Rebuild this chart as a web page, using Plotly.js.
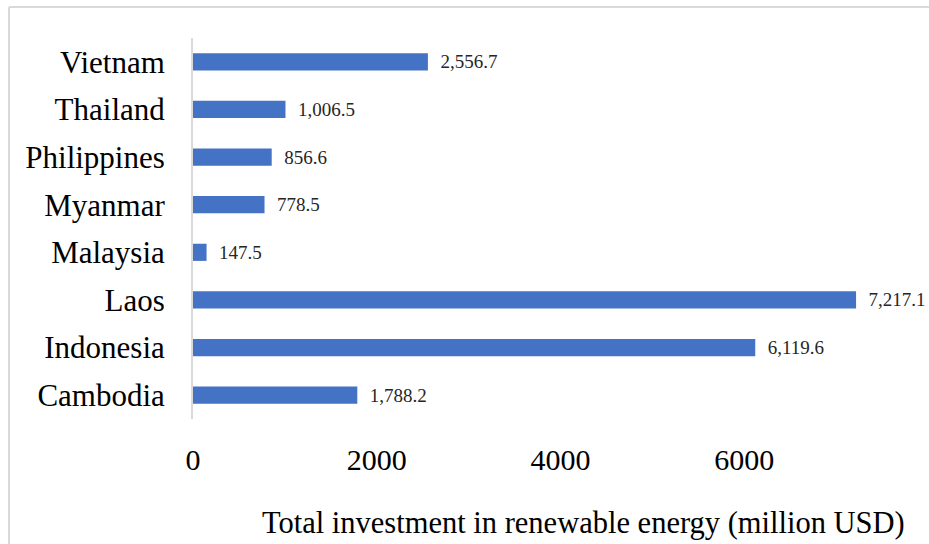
<!DOCTYPE html>
<html>
<head>
<meta charset="utf-8">
<script src="https://cdn.plot.ly/plotly-3.0.1.min.js"></script>
<style>html,body{margin:0;padding:0;background:#fff;}#chart{width:929px;height:544px;}</style>
</head>
<body>
<div id="chart"></div>
<script>
const countries = ["Cambodia", "Indonesia", "Laos", "Malaysia", "Myanmar", "Philippines", "Thailand", "Vietnam"];
const investment = [1788.2, 6119.6, 7217.1, 147.5, 778.5, 856.6, 1006.5, 2556.7];
const xTicks = [0, 2000, 4000, 6000];
const xTitle = "Total investment in renewable energy (million USD)";

const font = "Liberation Serif, Times New Roman, serif";
const W = 929, H = 544, L = 193, R = 1, T = 38, B = 125;
const pw = W - L - R, ph = H - T - B;

Plotly.newPlot("chart", [{
  type: "bar",
  orientation: "h",
  y: countries,
  x: investment,
  marker: {color: "#4472C4"},
  texttemplate: "\u00a0\u00a0%{x:,.1f}",
  textposition: "outside",
  textfont: {family: font, size: 19, color: "#262626"},
  cliponaxis: false,
  constraintext: "none",
  hoverinfo: "skip"
}], {
  width: W, height: H,
  margin: {l: L, r: R, t: T, b: B, pad: 0},
  paper_bgcolor: "#ffffff",
  plot_bgcolor: "#ffffff",
  bargap: 0.64,
  showlegend: false,
  font: {family: font, color: "#000"},
  xaxis: {
    range: [0, 8000],
    tickvals: xTicks,
    ticktext: xTicks.map(String),
    tickfont: {family: font, size: 30, color: "#000"},
    showgrid: false, zeroline: false, showline: false,
    ticks: "outside", ticklen: 14, tickcolor: "rgba(0,0,0,0)",
    fixedrange: true
  },
  yaxis: {
    range: [-0.5, 7.5],
    tickfont: {family: font, size: 31, color: "#000"},
    showgrid: false, zeroline: false,
    showline: true, linecolor: "#d9d9d9", linewidth: 2,
    ticks: "outside", ticklen: 20, tickcolor: "rgba(0,0,0,0)",
    fixedrange: true
  },
  annotations: [{
    text: xTitle,
    xref: "paper", yref: "paper",
    x: (583 - L) / pw, y: (T + ph - 523) / ph,
    xanchor: "center", yanchor: "middle",
    showarrow: false,
    font: {family: font, size: 30.5, color: "#000"}
  }],
  shapes: [
    {type: "line", xref: "paper", yref: "paper",
     x0: (9 - L) / pw, x1: (9 - L) / pw, y0: (T + ph - 7) / ph, y1: (T + ph - 560) / ph,
     line: {color: "#d9d9d9", width: 2}},
    {type: "line", xref: "paper", yref: "paper",
     x0: (9 - L) / pw, x1: (940 - L) / pw, y0: (T + ph - 7) / ph, y1: (T + ph - 7) / ph,
     line: {color: "#d9d9d9", width: 2}}
  ]
}, {displayModeBar: false, staticPlot: true});
</script>
</body>
</html>
